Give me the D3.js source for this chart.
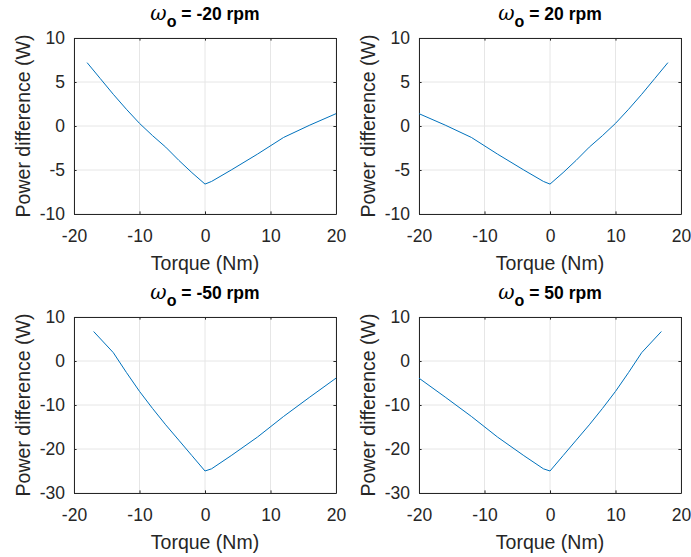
<!DOCTYPE html>
<html>
<head>
<meta charset="utf-8">
<script src="https://cdn.jsdelivr.net/npm/d3@7"></script>
<style>
  body { margin: 0; background: #fff; }
  svg { font-family: "Liberation Sans", Arial, sans-serif; }
  .tick text { fill: #262626; font-size: 17.5px; }
  .lbl { fill: #262626; font-size: 19.5px; }
  .ttl { fill: #000; font-size: 17.5px; font-weight: bold; }
</style>
</head>
<body>
<svg width="691" height="557"></svg>
<script>
// Torque samples (Nm) and power difference (W) per speed
const torqueNeg20 = [-18, -16, -14, -12, -10, -8, -6, -4, -2, 0, 1, 4, 8, 12, 16, 20];
const powerNeg20 = [7.2, 5.4, 3.6, 1.9, 0.3, -1.1, -2.4, -3.9, -5.3, -6.6, -6.3, -5.0, -3.2, -1.3, 0.1, 1.4];

const torquePos20 = torqueNeg20.map(t => -t);
const powerPos20 = powerNeg20.slice();

const torqueNeg50 = [-17, -14, -12, -10, -8, -6, -4, -2, 0, 1, 4, 8, 12, 16, 20];
const powerNeg50 = [6.7, 1.9, -2.6, -6.9, -10.8, -14.5, -18.0, -21.5, -25.0, -24.5, -21.5, -17.3, -12.6, -8.2, -3.9];

const torquePos50 = torqueNeg50.map(t => -t);
const powerPos50 = powerNeg50.slice();

const xTicks = [-20, -10, 0, 10, 20];
const yTicksSmall = [-10, -5, 0, 5, 10];
const yTicksLarge = [-30, -20, -10, 0, 10];

const panels = [
  { speed: "-20", x: torqueNeg20, y: powerNeg20, yDom: [-10, 10], yTicks: yTicksSmall, left: 74, top: 38 },
  { speed: "20", x: torquePos20, y: powerPos20, yDom: [-10, 10], yTicks: yTicksSmall, left: 419, top: 38 },
  { speed: "-50", x: torqueNeg50, y: powerNeg50, yDom: [-30, 10], yTicks: yTicksLarge, left: 74, top: 317 },
  { speed: "50", x: torquePos50, y: powerPos50, yDom: [-30, 10], yTicks: yTicksLarge, left: 419, top: 317 }
];

const svg = d3.select("svg");
const w = 262, h = 176;
const tickLen = 2.6;
const fmt = d => String(d); // plain hyphen minus like the original

panels.forEach(p => {
  const g = svg.append("g").attr("transform", `translate(${p.left},${p.top})`);
  const x = d3.scaleLinear().domain([-20, 20]).range([0, w]);
  const y = d3.scaleLinear().domain(p.yDom).range([h, 0]);

  // grid
  g.append("g").selectAll("line").data(xTicks).join("line")
    .attr("x1", d => x(d)).attr("x2", d => x(d)).attr("y1", 0).attr("y2", h)
    .attr("stroke", "#e6e6e6");
  g.append("g").selectAll("line").data(p.yTicks).join("line")
    .attr("y1", d => y(d)).attr("y2", d => y(d)).attr("x1", 0).attr("x2", w)
    .attr("stroke", "#e6e6e6");

  // axes (ticks inside, box on)
  g.append("g").attr("transform", `translate(0,${h})`)
    .call(d3.axisBottom(x).tickValues(xTicks).tickFormat(fmt).tickSize(-tickLen).tickPadding(16).tickSizeOuter(0));
  g.append("g")
    .call(d3.axisLeft(y).tickValues(p.yTicks).tickFormat(fmt).tickSize(-tickLen).tickPadding(9).tickSizeOuter(0));
  g.append("g")
    .call(d3.axisTop(x).tickValues(xTicks).tickSize(-tickLen).tickFormat("").tickSizeOuter(0));
  g.append("g").attr("transform", `translate(${w},0)`)
    .call(d3.axisRight(y).tickValues(p.yTicks).tickSize(-tickLen).tickFormat("").tickSizeOuter(0));
  g.selectAll(".domain, .tick line").attr("stroke", "#262626");
  g.selectAll(".tick text").attr("font-family", null).attr("font-size", null);

  // series
  const line = d3.line().x(d => x(d[0])).y(d => y(d[1]));
  g.append("path")
    .datum(p.x.map((t, i) => [t, p.y[i]]))
    .attr("fill", "none")
    .attr("stroke", "#0072BD")
    .attr("stroke-width", 1)
    .attr("d", line);

  // labels
  g.append("text").attr("class", "lbl")
    .attr("x", w / 2).attr("y", h + 56)
    .attr("text-anchor", "middle")
    .text("Torque (Nm)");
  g.append("text").attr("class", "lbl")
    .attr("transform", `translate(-44,${h / 2}) rotate(-90)`)
    .attr("text-anchor", "middle")
    .text("Power difference (W)");

  const t = g.append("text").attr("class", "ttl")
    .attr("x", w / 2).attr("y", -18)
    .attr("text-anchor", "middle");
  t.append("tspan").attr("font-family", "'DejaVu Serif', serif").attr("font-style", "italic")
    .attr("font-weight", "normal").attr("font-size", 20).text("ω");
  t.append("tspan").attr("dy", 7).attr("font-size", 16).text("o");
  t.append("tspan").attr("dy", -7).text(` = ${p.speed} rpm`);
});
</script>
</body>
</html>
